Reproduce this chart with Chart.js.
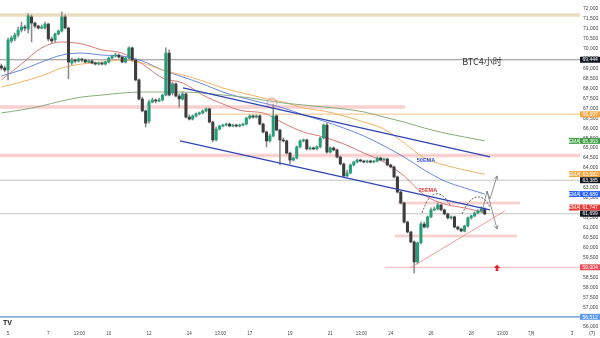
<!DOCTYPE html>
<html>
<head>
<meta charset="utf-8">
<script src="https://cdn.jsdelivr.net/npm/chart.js@4.4.1/dist/chart.umd.min.js"></script>
<style>
  html, body { margin: 0; padding: 0; background: #fff; }
  #wrap { width: 600px; height: 338px; position: relative; }
</style>
</head>
<body>
<div id="wrap"><canvas id="btc"></canvas></div>
<script>
// BTC 4h candles, first one is 4 Jun 16:00, x axis is "day of June"
const firstCandle = 4 + 16 / 24;

const opens = [69130, 69030, 68930, 70390, 70490, 70690, 70940, 71090, 70990, 71600,
  71290, 71140, 71040, 71040, 71240, 70490, 70440, 70740, 70890, 71600,
  71040, 69280, 69430, 69380, 69480, 69430, 69330, 69380, 69280, 69230,
  69280, 69230, 69330, 69530, 69630, 69680, 69580, 69330, 69530, 70040,
  69430, 68430, 67470, 66870, 66360, 67320, 67420, 67370, 67420, 67670,
  69780, 67770, 68230, 67620, 67470, 67720, 66560, 66460, 66620, 66720,
  66770, 66870, 66970, 66310, 65410, 65960, 66110, 66160, 66210, 66110,
  66160, 66110, 66160, 66210, 66510, 66620, 66560, 66620, 66210, 65810,
  65360, 65610, 66620, 65910, 65410, 65360, 64750, 64400, 64500, 65060,
  65360, 65410, 64960, 65010, 64960, 65060, 65510, 66160, 64800, 65010,
  64910, 64550, 64200, 63600, 63750, 64150, 64300, 64400, 64350, 64300,
  64350, 64300, 64350, 64500, 64400, 64450, 64150, 64050, 63550, 62790,
  62240, 61280, 60780, 60280, 59270, 60230, 61180, 61030, 61540, 61890,
  61940, 62140, 61890, 61690, 61490, 61540, 61030, 60930, 60830, 61080,
  61490, 61590, 61740, 61840, 61940];
const highs = [69230, 69130, 70540, 70640, 70790, 71090, 71340, 71190, 71750, 71700,
  71340, 71190, 71190, 71340, 71290, 70590, 70790, 70940, 71850, 71700,
  71090, 69530, 69480, 69530, 69530, 69480, 69430, 69430, 69330, 69330,
  69330, 69380, 69580, 69680, 69780, 69730, 69630, 69580, 70090, 70090,
  69480, 68480, 67570, 66920, 67420, 67520, 67470, 67520, 67720, 70040,
  69940, 68330, 68280, 67720, 67820, 67770, 66670, 66670, 66770, 66820,
  66920, 67020, 67020, 66360, 66060, 66160, 66210, 66260, 66260, 66210,
  66210, 66210, 66260, 66560, 66670, 66670, 66670, 66670, 66260, 65860,
  65710, 67220, 66670, 65960, 65510, 65410, 64800, 64550, 65110, 65410,
  65460, 65460, 65060, 65060, 65110, 65560, 66210, 66260, 65060, 65060,
  64960, 64600, 64250, 63900, 64200, 64350, 64450, 64450, 64400, 64400,
  64400, 64400, 64550, 64550, 64500, 64500, 64200, 64100, 63600, 62840,
  62290, 61330, 60830, 60330, 60280, 61280, 61280, 61590, 61990, 62040,
  62240, 62190, 61940, 61740, 61590, 61590, 61080, 60980, 61130, 61540,
  61640, 61790, 61890, 62040, 61990];
const lows = [68930, 68830, 68430, 70290, 70390, 70590, 70840, 70890, 70790, 70340,
  71040, 70990, 70990, 70990, 70390, 70290, 70340, 70690, 70840, 70990,
  68480, 69180, 69280, 69330, 69330, 69280, 69280, 69230, 69180, 69180,
  69180, 69180, 69280, 69480, 69580, 69530, 69280, 69280, 69480, 69380,
  68380, 67420, 66820, 66060, 66260, 67270, 67270, 67320, 67370, 67620,
  67620, 67670, 67570, 67070, 67420, 66510, 66410, 66410, 66560, 66670,
  66720, 66820, 66260, 65310, 65360, 65910, 66060, 66110, 66060, 66060,
  66060, 66060, 66110, 66160, 66460, 66510, 66510, 66160, 65760, 65060,
  65310, 65560, 65860, 64150, 65310, 64700, 64200, 64350, 64450, 65010,
  65310, 64910, 64910, 64910, 64910, 65010, 65460, 64750, 64750, 64860,
  64500, 64150, 63550, 63550, 63700, 64100, 64250, 64300, 64250, 64250,
  64250, 64250, 64300, 64350, 64350, 64100, 64000, 63500, 62740, 62190,
  61230, 60730, 60230, 58720, 59170, 60180, 60980, 60980, 61490, 61840,
  61890, 61840, 61640, 61430, 61430, 60980, 60880, 60780, 60780, 61030,
  61430, 61540, 61690, 61790, 61640];
const closes = [69030, 68930, 70440, 70540, 70690, 70940, 71090, 71040, 71650, 71290,
  71140, 71040, 71090, 71240, 70490, 70390, 70740, 70890, 71600, 71040,
  69330, 69430, 69380, 69480, 69430, 69330, 69380, 69280, 69230, 69280,
  69230, 69330, 69530, 69630, 69680, 69580, 69330, 69530, 70040, 69430,
  68430, 67470, 66870, 66260, 67320, 67420, 67370, 67420, 67670, 69780,
  67670, 68230, 67620, 67470, 67720, 66560, 66460, 66620, 66720, 66770,
  66870, 66970, 66310, 65410, 65960, 66110, 66160, 66210, 66110, 66160,
  66110, 66160, 66210, 66510, 66620, 66560, 66620, 66210, 65810, 65360,
  65610, 66620, 65910, 65410, 65360, 64750, 64400, 64500, 65060, 65360,
  65410, 64960, 65010, 64960, 65060, 65510, 66160, 64800, 65010, 64910,
  64550, 64200, 63600, 63750, 64150, 64300, 64400, 64350, 64300, 64350,
  64300, 64350, 64500, 64400, 64450, 64150, 64050, 63550, 62790, 62240,
  61280, 60780, 60280, 59270, 60230, 61180, 61030, 61540, 61890, 61940,
  62140, 61890, 61690, 61490, 61540, 61030, 60930, 60830, 61080, 61490,
  61590, 61740, 61840, 61940, 61690];

// moving averages read once a day (16:00 candle)
const ema25 = [68430, 69230, 70040, 70340, 70240, 69940, 69780, 69230, 68530, 68280, 67670, 67220,
  66870, 66770, 66260, 65810, 65560, 65210, 64750, 64300, 63600, 62640, 62190, 61990, 61747];
const ema50 = [68630, 68930, 69330, 69680, 69780, 69680, 69630, 69380, 68930, 68580, 68230, 67820,
  67520, 67270, 67020, 66670, 66360, 66010, 65610, 65110, 64550, 63900, 63350, 63000, 62689];
const ema100 = [68070, 68330, 68630, 69030, 69230, 69330, 69430, 69280, 68930, 68680, 68380, 68020,
  67770, 67520, 67320, 67020, 66870, 66620, 66310, 65960, 65260, 64500, 64150, 63900, 63682];
const ema200 = [66770, 66920, 67120, 67370, 67570, 67670, 67770, 67820, 67820, 67820, 67770, 67670,
  67570, 67420, 67270, 67170, 67070, 66970, 66820, 66560, 66310, 66010, 65760, 65560, 65363];

const tickDays = [5, 7, 8.54, 10, 12, 14, 15.54, 17, 19, 21, 22.54, 24, 26, 28, 29.54, 31, 33];
const tickLabels = ['5', '7', '13:00', '10', '12', '14', '13:00', '17', '19', '21', '13:00',
  '24', '26', '28', '13:00', '7月', '3'];
const priceTicks = [56000, 56500, 57000, 57500, 58000, 58500, 59000, 59500, 60000, 60500, 61000,
  61500, 62000, 62500, 63000, 63500, 64000, 64500, 65000, 65500, 66000, 66500, 67000, 67500,
  68000, 68500, 69000, 69500, 70000, 70500, 71000, 71500, 72000];

// price tags on the right scale: value, colour, is it an EMA
const tagValues = [69444, 66697, 65363, 63682, 63385, 62689, 61747, 61699, 59004, 56512];
const tagColors = ['#131722', '#f5a742', '#43a047', '#f5a742', '#131722', '#2962ff', '#e53935',
  '#131722', '#f0505a', '#5b9cf0'];
const tagIsEma = [false, false, true, true, false, true, true, false, false, false];

const X_MIN = 4.6, X_MAX = 33.4;
const UP = '#23a07a', DOWN = '#3c3c3c';

const candleX = closes.map((c, i) => firstCandle + i / 6);
const emaX = ema25.map((v, k) => firstCandle + k);

function line(points, color, width, order, extra) {
  return Object.assign({
    type: 'line',
    data: points.map(p => ({x: p[0], y: p[1]})),
    borderColor: color,
    borderWidth: width,
    pointRadius: 0,
    tension: 0,
    order: order
  }, extra || {});
}

function ema(values, color) {
  return line(values.map((v, k) => [emaX[k], v]), color, 1, 6,
    {cubicInterpolationMode: 'monotone'});
}

// pink zones get a soft fill plus a thin edge
function zone(x0, x1, price, width) {
  return [
    line([[x0, price], [x1, price]], 'rgba(240,150,150,0.35)', width, 20),
    line([[x0, price], [x1, price]], 'rgba(230,120,120,0.35)', 0.6, 19)
  ];
}

// trader's drawings
const datasets = [
  line([[X_MIN, 71700], [X_MAX, 71700]], 'rgba(222,196,148,0.6)', 3.5, 20),
  line([[X_MIN, 69444], [X_MAX, 69444]], '#8f8f8f', 1, 20),
  ...zone(X_MIN, 24.71, 67070, 4),
  line([[15.03, 66697], [X_MAX, 66697]], 'rgba(245,200,140,0.7)', 1.5, 20),
  ...zone(X_MIN, X_MAX, 64630, 4),
  line([[X_MIN, 63385], [X_MAX, 63385]], '#c4c4c4', 1, 20),
  line([[X_MIN, 61699], [X_MAX, 61699]], '#c4c4c4', 1, 20),
  ...zone(24.36, 30.42, 62240, 3),
  ...zone(24.21, 30.27, 60580, 3),
  line([[23.72, 59004], [X_MAX, 59004]], 'rgba(238,140,140,0.6)', 1, 20),
  line([[X_MIN, 56512], [X_MAX, 56512]], '#5b8ec6', 1.2, 20),
  ema(ema200, 'rgba(130,170,115,0.95)'),
  ema(ema100, 'rgba(240,175,90,0.95)'),
  ema(ema50, 'rgba(80,115,220,0.85)'),
  ema(ema25, 'rgba(215,95,95,0.85)'),
  {
    type: 'bar',
    data: candleX.map((x, i) => ({x: x, y: [lows[i], highs[i]]})),
    backgroundColor: '#8a8a8a',
    barThickness: 0.9,
    grouped: false,
    order: 4
  },
  {
    type: 'bar',
    data: candleX.map((x, i) => ({x: x, y: [opens[i], closes[i]]})),
    backgroundColor: closes.map((c, i) => c >= opens[i] ? UP : DOWN),
    barThickness: 2.4,
    minBarLength: 1,
    grouped: false,
    order: 3
  },
  line([[13.69, 68024], [28.93, 64553]], '#2f45b5', 1.3, 1),
  line([[13.54, 65358], [28.93, 61887]], '#2f45b5', 1.3, 1),
  line([[24.96, 58970], [29.67, 61837]], 'rgba(235,140,140,0.85)', 1, 1),
  line([[25.55, 61740], [25.85, 62390], [26.2, 62690], [26.6, 62590], [26.94, 62140]], '#555', 0.9, 1,
    {borderDash: [2, 1.5], tension: 0.4}),
  line([[27.54, 61690], [27.89, 62290], [28.28, 62540], [28.63, 62440], [28.93, 62040]], '#555', 0.9, 1,
    {borderDash: [2, 1.5], tension: 0.4}),
  line([[28.53, 61740], [28.78, 62840], [28.93, 62440], [29.28, 63600]], '#777', 0.8, 1),
  line([[28.78, 62840], [29.28, 60930]], '#777', 0.8, 1),
  {
    type: 'line',
    data: [{x: 18.11, y: 67269}],
    showLine: false,
    pointRadius: 5,
    pointBorderWidth: 0.8,
    pointBorderColor: 'rgba(225,130,150,0.9)',
    pointBackgroundColor: 'rgba(240,170,185,0.15)',
    order: 1
  }
];

const overlay = {
  id: 'overlay',
  afterDatasetsDraw(chart) {
    const {ctx, scales: {x, y}} = chart;
    ctx.save();
    // arrow heads on the two projected paths
    [[[28.93, 62440], [29.28, 63600]], [[28.78, 62840], [29.28, 60930]]].forEach(seg => {
      const x0 = x.getPixelForValue(seg[0][0]), y0 = y.getPixelForValue(seg[0][1]);
      const x1 = x.getPixelForValue(seg[1][0]), y1 = y.getPixelForValue(seg[1][1]);
      const a = Math.atan2(y1 - y0, x1 - x0);
      ctx.strokeStyle = '#777';
      ctx.lineWidth = 0.8;
      ctx.beginPath();
      ctx.moveTo(x1 - 4 * Math.cos(a - 0.5), y1 - 4 * Math.sin(a - 0.5));
      ctx.lineTo(x1, y1);
      ctx.lineTo(x1 - 4 * Math.cos(a + 0.5), y1 - 4 * Math.sin(a + 0.5));
      ctx.stroke();
    });
    // red arrow under the lows
    const ax = x.getPixelForValue(29.28), ay = y.getPixelForValue(58970);
    ctx.fillStyle = '#e0272e';
    ctx.beginPath();
    ctx.moveTo(ax, ay - 3.5);
    ctx.lineTo(ax + 3.2, ay);
    ctx.lineTo(ax + 1.3, ay);
    ctx.lineTo(ax + 1.3, ay + 3);
    ctx.lineTo(ax - 1.3, ay + 3);
    ctx.lineTo(ax - 1.3, ay);
    ctx.lineTo(ax - 3.2, ay);
    ctx.closePath();
    ctx.fill();
    // text notes
    ctx.textAlign = 'center';
    ctx.textBaseline = 'middle';
    ctx.fillStyle = '#333';
    ctx.font = '9px "Noto Sans CJK SC", sans-serif';
    ctx.fillText('BTC4小时', x.getPixelForValue(28.53), y.getPixelForValue(69330));
    ctx.font = 'bold 5.5px "Liberation Sans", Arial, sans-serif';
    ctx.fillStyle = '#2f4fd6';
    ctx.fillText('50EMA', x.getPixelForValue(25.75), y.getPixelForValue(64380));
    ctx.fillStyle = '#e03a3a';
    ctx.fillText('25EMA', x.getPixelForValue(25.85), y.getPixelForValue(62870));
    ctx.restore();
  },
  afterDraw(chart) {
    const {ctx, chartArea, scales: {y}} = chart;
    ctx.save();
    // keep the tags from sitting on top of each other, lowest one stays put
    const order = tagValues.map((v, i) => i).sort((a, b) => tagValues[a] - tagValues[b]);
    const pos = [];
    let prev = Infinity;
    order.forEach(i => {
      let py = y.getPixelForValue(tagValues[i]);
      if (prev - py < 6.2) py = prev - 6.2;
      pos[i] = py;
      prev = py;
    });
    ctx.font = '5px "Liberation Sans", Arial, sans-serif';
    ctx.textBaseline = 'middle';
    tagValues.forEach((v, i) => {
      const py = pos[i];
      ctx.fillStyle = tagColors[i];
      ctx.fillRect(chartArea.right, py - 3, 20, 6);
      if (tagIsEma[i]) ctx.fillRect(chartArea.right - 11, py - 3, 10.5, 6);
      ctx.fillStyle = '#fff';
      ctx.textAlign = 'left';
      ctx.fillText(v.toLocaleString('en-US'), chartArea.right + 2.5, py + 0.3);
      if (tagIsEma[i]) {
        ctx.textAlign = 'center';
        ctx.fillText('EMA', chartArea.right - 5.8, py + 0.3);
      }
    });
    // tradingview mark and the scale corner
    ctx.fillStyle = '#131722';
    ctx.textAlign = 'left';
    ctx.font = 'bold 7px "Liberation Sans", Arial, sans-serif';
    ctx.fillText('TV', 3, 323);
    ctx.font = '5px "Liberation Sans", Arial, sans-serif';
    ctx.fillStyle = '#444';
    ctx.fillText('(7)', 589, 333.5);
    ctx.restore();
  }
};

Chart.defaults.font.family = '"Liberation Sans", Arial, sans-serif';

function noPad(s) {
  s.paddingLeft = 0;
  s.paddingRight = 0;
  s.paddingTop = 0;
  s.paddingBottom = 0;
}

new Chart(document.getElementById('btc'), {
  type: 'bar',
  data: {datasets: datasets},
  options: {
    responsive: true,
    maintainAspectRatio: false,
    animation: false,
    layout: {padding: 0, autoPadding: false},
    plugins: {legend: {display: false}, tooltip: {enabled: false}},
    scales: {
      x: {
        type: 'linear',
        min: X_MIN,
        max: X_MAX,
        offset: false,
        grid: {display: false, drawTicks: false},
        border: {display: false},
        afterBuildTicks: s => { s.ticks = tickDays.map(v => ({value: v})); },
        afterFit: s => { s.height = 8; noPad(s); },
        ticks: {
          autoSkip: false,
          maxRotation: 0,
          padding: 1.5,
          color: '#444',
          font: {size: 4.5},
          callback: (v, i) => tickLabels[i]
        }
      },
      y: {
        position: 'right',
        min: 55850,
        max: 72450,
        grid: {display: false, drawTicks: false},
        border: {display: false},
        afterBuildTicks: s => { s.ticks = priceTicks.map(v => ({value: v})); },
        afterFit: s => { s.width = 20; noPad(s); },
        ticks: {
          autoSkip: false,
          padding: 3,
          color: '#444',
          font: {size: 5},
          callback: v => v.toLocaleString('en-US')
        }
      }
    }
  },
  plugins: [overlay]
});
</script>
</body>
</html>
